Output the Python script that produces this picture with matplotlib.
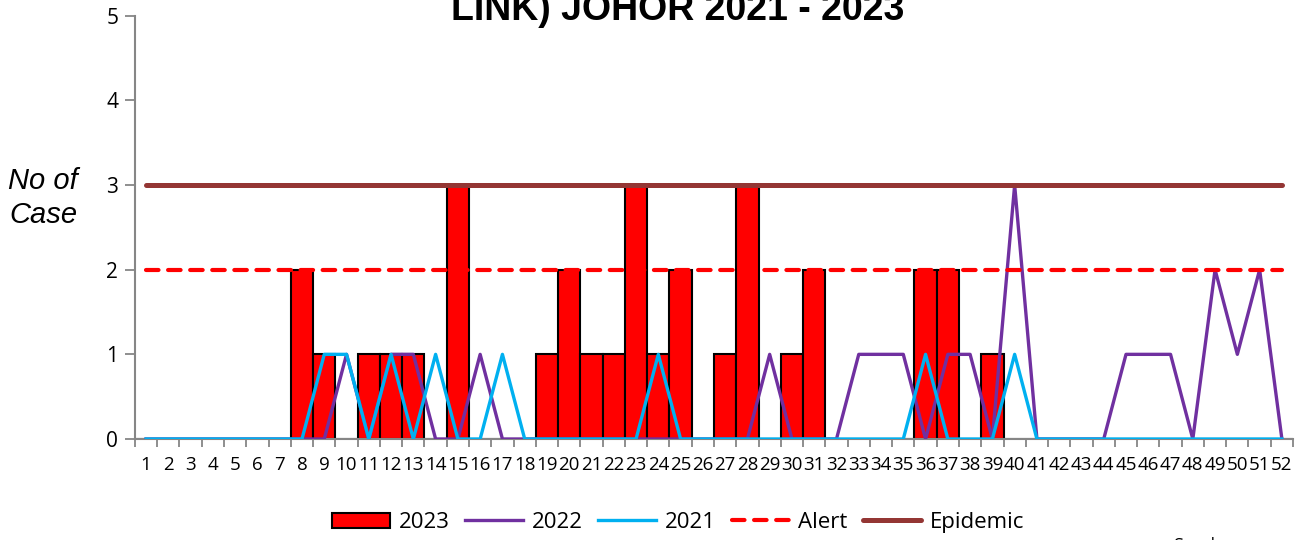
import matplotlib.pyplot as plt
import numpy as np

weeks = list(range(1, 53))

# 2023 (bars) - weeks 1..52, only up to week 39 reported
cases_2023 = [0, 0, 0, 0, 0, 0, 0, 2, 1, 0,
              1, 1, 1, 0, 3, 0, 0, 0, 1, 2,
              1, 1, 3, 1, 2, 0, 1, 3, 0, 1,
              2, 0, 0, 0, 0, 2, 2, 0, 1, 0,
              0, 0, 0, 0, 0, 0, 0, 0, 0, 0,
              0, 0]

cases_2022 = [0, 0, 0, 0, 0, 0, 0, 0, 0, 1,
              0, 1, 1, 0, 0, 1, 0, 0, 0, 0,
              0, 0, 0, 0, 0, 0, 0, 0, 1, 0,
              0, 0, 1, 1, 1, 0, 1, 1, 0, 3,
              0, 0, 0, 0, 1, 1, 1, 0, 2, 1,
              2, 0]

cases_2021 = [0, 0, 0, 0, 0, 0, 0, 0, 1, 1,
              0, 1, 0, 1, 0, 0, 1, 0, 0, 0,
              0, 0, 0, 1, 0, 0, 0, 0, 0, 0,
              0, 0, 0, 0, 0, 1, 0, 0, 0, 1,
              0, 0, 0, 0, 0, 0, 0, 0, 0, 0,
              0, 0]

alert_level = 2
epidemic_level = 3

sans = ["Open Sans", "DejaVu Sans"]
gray = "#868686"

fig = plt.figure(figsize=(13.09, 5.4), dpi=100)
ax = fig.add_axes([0.1031, 0.187, 0.8847, 0.784])

x = np.array(weeks)
h23 = ax.bar(x, cases_2023, width=1.0, color="#FF0000", edgecolor="black",
             linewidth=1.5, label="2023", zorder=2)
h22, = ax.plot(x, cases_2022, color="#7030A0", lw=2.4, label="2022", zorder=3)
h21, = ax.plot(x, cases_2021, color="#00B0F0", lw=2.4, label="2021", zorder=4)
ha, = ax.plot([1, 52], [alert_level, alert_level], color="#FF0000", lw=3.0,
              linestyle=(0, (3.0, 2.3)), dash_capstyle="round", label="Alert", zorder=5)
he, = ax.plot([1, 52], [epidemic_level, epidemic_level], color="#943634", lw=3.6,
              solid_capstyle="round", label="Epidemic", zorder=5)

ax.set_xlim(0.5, 52.5)
ax.set_ylim(0, 5)
ax.set_yticks(range(0, 6))
ax.set_xticks(x)
ax.set_xticklabels([str(w) for w in weeks], fontfamily=sans, fontsize=13.5)
ax.set_xticks(np.arange(0.5, 53.0, 1.0), minor=True)
ax.tick_params(axis="x", which="major", length=0, pad=12)
ax.tick_params(axis="x", which="minor", length=6, width=1.3, color=gray)
ax.tick_params(axis="y", length=7, width=1.3, color=gray, pad=5, labelsize=15)
for lab in ax.get_yticklabels():
    lab.set_fontfamily(sans)

for s in ["top", "right"]:
    ax.spines[s].set_visible(False)
for s in ["left", "bottom"]:
    ax.spines[s].set_color(gray)
    ax.spines[s].set_linewidth(1.5)

fig.text(0.033, 0.633, "No of\nCase", fontsize=21, style="italic",
         fontfamily=["Liberation Sans", "DejaVu Sans"], ha="center", va="center",
         linespacing=1.25)

fig.text(0.518, 0.963, "LINK) JOHOR 2021 - 2023", fontsize=27, fontweight="bold",
         fontfamily=["Liberation Sans", "DejaVu Sans"], ha="center", va="baseline")

fig.text(0.896, -0.02, "Sumber", fontsize=13, fontfamily=sans, va="baseline")

fig.legend([h23, h22, h21, ha, he], ["2023", "2022", "2021", "Alert", "Epidemic"],
           loc="center", bbox_to_anchor=(0.518, 0.032), ncol=5, frameon=False,
           prop={"family": sans, "size": 16}, handlelength=2.6,
           handletextpad=0.4, columnspacing=0.7)

fig.savefig("out.png", dpi=100)
